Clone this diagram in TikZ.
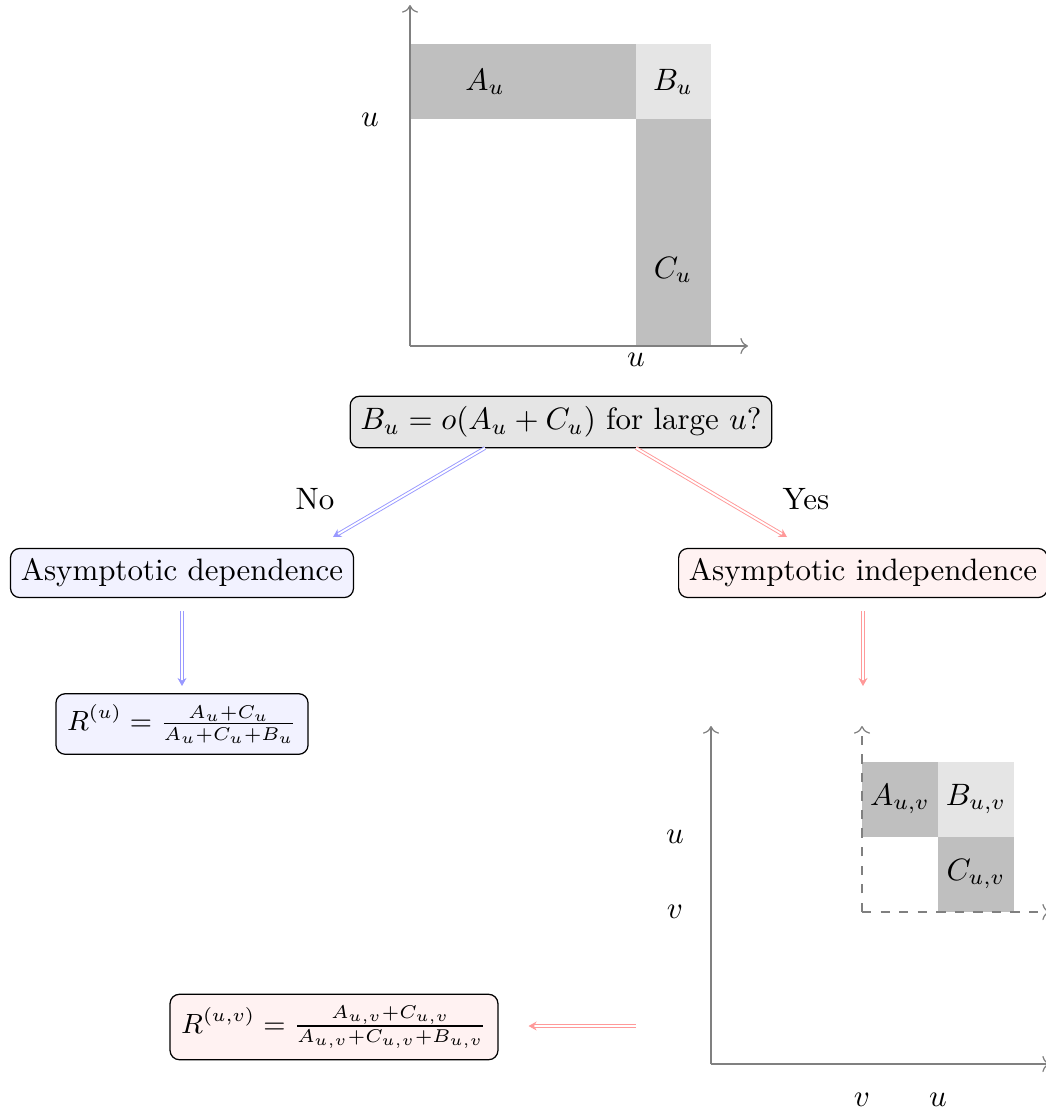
\documentclass[tikz,border=0pt]{standalone}
\usetikzlibrary{arrows.meta}
\begin{document}
\begin{tikzpicture}[x=0.3233pt,y=-0.3233pt,
  axis/.style={gray,line width=0.4pt,->},
  daxis/.style={gray,line width=0.4pt,->,dashed},
  dark/.style={fill=gray!50,draw=none},
  light/.style={fill=gray!20,draw=none},
  box/.style={draw=black,rounded corners=3pt,inner sep=3.33pt,line width=0.4pt},
  formula/.style={box,font=\small,inner sep=3.6pt},
  dbl/.style={double,line width=0.3pt,double distance=0.6pt,-{Stealth[length=2.6pt,width=2.9pt]}},
  bluearr/.style={dbl,draw=blue!40},
  redarr/.style={dbl,draw=red!40}]
\useasboundingbox (0,0) rectangle (1045,1112);
% top chart
\fill[dark] (410,44) rectangle (636,119);
\fill[light] (636,44) rectangle (711,119);
\fill[dark] (636,119) rectangle (711,346);
\draw[axis] (410,346) -- (410,5);
\draw[axis] (410,346) -- (748,346);
\node (Au) at (485,82) {$A_u$};
\node (Bu) at (673,82) {$B_u$};
\node (Cu) at (673,270) {$C_u$};
\node (uy) at (370,120) {$u$};
\node (ux) at (636,360) {$u$};
% decision
\node[box,fill=gray!20] (dec) at (561,422) {$B_u = o(A_u+C_u)$ for large $u$?};
\node[box,fill=blue!5] (dep) at (182,573) {Asymptotic dependence};
\node[box,fill=red!5] (ind) at (863,573) {Asymptotic independence};
\node[formula,fill=blue!5] (Ru) at (182,724) {$R^{(u)} = \frac{A_u+C_u}{A_u+C_u+B_u}$};
\node[formula,fill=red!5] (Ruv) at (334,1027) {$R^{(u,v)} = \frac{A_{u,v}+C_{u,v}}{A_{u,v}+C_{u,v}+B_{u,v}}$};
\coordinate (noS) at (485,448);
\coordinate (noE) at (333,537);
\coordinate (yesS) at (636,448);
\coordinate (yesE) at (787,537);
\draw[bluearr] (noS) -- (noE);
\draw[redarr] (yesS) -- (yesE);
\node (no) at (315,499) {No};
\node (yes) at (806,499) {Yes};
\draw[bluearr,shorten <=4.2pt,shorten >=2.3pt] (dep.south) -- (Ru.north);
\coordinate (indS) at (863,611);
\coordinate (indE) at (863,686);
\draw[redarr] (indS) -- (indE);
% bottom chart
\fill[dark] (862,762) rectangle (938,837);
\fill[light] (938,762) rectangle (1014,837);
\fill[dark] (938,837) rectangle (1014,912);
\draw[axis] (711,1064) -- (711,726);
\draw[axis] (711,1064) -- (1050,1064);
\draw[daxis] (862,912) -- (862,726);
\draw[daxis] (862,912) -- (1050,912);
\node (Auv) at (900,799) {$A_{u,v}$};
\node (Buv) at (976,799) {$B_{u,v}$};
\node (Cuv) at (976,874) {$C_{u,v}$};
\node (uy2) at (675,837) {$u$};
\node (vy2) at (675,912) {$v$};
\node (vx2) at (862,1100) {$v$};
\node (ux2) at (938,1100) {$u$};
\coordinate (lS) at (636,1026);
\draw[redarr,shorten >=9.7pt] (lS) -- (Ruv.east |- lS);
\end{tikzpicture}
\end{document}
